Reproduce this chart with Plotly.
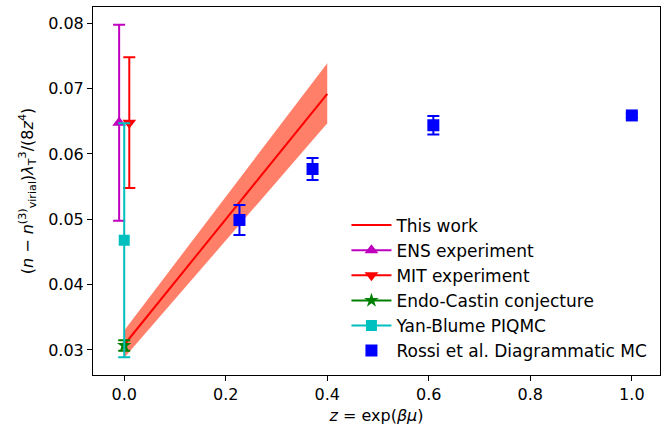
import plotly.graph_objects as go

# "This work": linear fit in z with its uncertainty band
fit_z = [0.0, 0.4]
fit_val = [0.0308, 0.0692]
fit_lo = [0.0288, 0.0647]
fit_hi = [0.0330, 0.0739]

# Single-point references at small z
ens_z, ens_val, ens_err = [-0.01], [0.0648], [0.0150]
mit_z, mit_val, mit_err = [0.01], [0.0648], [0.0100]
endo_z, endo_val, endo_err = [0.0], [0.0307], [0.0008]
yan_z, yan_val, yan_err = [0.0], [0.0468], [0.0179]

# Diagrammatic Monte Carlo results
rossi_z = [0.227, 0.371, 0.609, 1.0]
rossi_val = [0.0499, 0.0577, 0.0644, 0.0659]
rossi_err = [0.0023, 0.0017, 0.0014, 0.0003]

x_ticks = [0.0, 0.2, 0.4, 0.6, 0.8, 1.0]
y_ticks = [0.03, 0.04, 0.05, 0.06, 0.07, 0.08]

FONT = "DejaVu Sans"
MAGENTA = "#bf00bf"
CYAN = "#00bfbf"
GREEN = "#008000"
RED = "#ff0000"
BLUE = "#0000ff"

fig = go.Figure()

# uncertainty band (lower edge, then upper edge filled down to it)
fig.add_trace(go.Scatter(x=fit_z, y=fit_lo, mode="lines", line=dict(width=0),
                         showlegend=False, hoverinfo="skip"))
fig.add_trace(go.Scatter(x=fit_z, y=fit_hi, mode="lines", line=dict(width=0),
                         fill="tonexty", fillcolor="rgb(255,127,105)",
                         showlegend=False, hoverinfo="skip"))


def err(vals, color):
    return dict(type="data", array=vals, visible=True, color=color,
                thickness=2, width=6)


fig.add_trace(go.Scatter(x=fit_z, y=fit_val, mode="lines", name="This work",
                         line=dict(color=RED, width=2), legendgroup="a"))
fig.add_trace(go.Scatter(x=ens_z, y=ens_val, mode="lines+markers", name="ENS experiment",
                         line=dict(color=MAGENTA, width=2),
                         marker=dict(symbol="triangle-up", size=12, color=MAGENTA),
                         error_y=err(ens_err, MAGENTA), legendgroup="b"))
fig.add_trace(go.Scatter(x=mit_z, y=mit_val, mode="lines+markers", name="MIT experiment",
                         line=dict(color=RED, width=2),
                         marker=dict(symbol="triangle-down", size=12, color=RED),
                         error_y=err(mit_err, RED), legendgroup="c"))
fig.add_trace(go.Scatter(x=endo_z, y=endo_val, mode="lines+markers", name="Endo-Castin conjecture",
                         line=dict(color=GREEN, width=2),
                         marker=dict(symbol="star", size=11, color=GREEN),
                         error_y=err(endo_err, GREEN), legendgroup="d"))
fig.add_trace(go.Scatter(x=yan_z, y=yan_val, mode="lines+markers", name="Yan-Blume PIQMC",
                         line=dict(color=CYAN, width=2),
                         marker=dict(symbol="square", size=11, color=CYAN),
                         error_y=err(yan_err, CYAN), legendgroup="e"))
fig.add_trace(go.Scatter(x=rossi_z, y=rossi_val, mode="markers", name="Rossi et al. Diagrammatic MC",
                         marker=dict(symbol="square", size=12, color=BLUE),
                         error_y=err(rossi_err, BLUE), legendgroup="f"))

axis_common = dict(showline=True, linecolor="black", linewidth=1, mirror=True,
                   ticks="outside", ticklen=5, tickwidth=1, tickcolor="black",
                   showgrid=False, zeroline=False,
                   tickfont=dict(family=FONT, size=16, color="black"))

fig.update_layout(
    width=671, height=429,
    margin=dict(l=93, r=11, t=7, b=54),
    paper_bgcolor="white", plot_bgcolor="white",
    font=dict(family=FONT, size=16, color="black"),
    xaxis=dict(range=[-0.0615, 1.0555], tickvals=x_ticks, tickformat=".1f",
               title=dict(text="<i>z</i> = exp(<i>βμ</i>)", standoff=6,
                          font=dict(family=FONT, size=16)),
               **axis_common),
    yaxis=dict(range=[0.02617, 0.0825], tickvals=y_ticks, tickformat=".2f",
               title=dict(text="(<i>n</i> − <i>n</i><sup>(3)</sup><sub>virial</sub>)"
                               "<i>λ</i><sub>T</sub><sup>3</sup>/(8<i>z</i><sup>4</sup>)",
                          standoff=10, font=dict(family=FONT, size=16)),
               **axis_common),
    legend=dict(x=0.447, y=0.455, xanchor="left", yanchor="top",
                bgcolor="rgba(255,255,255,0)", borderwidth=0,
                font=dict(family=FONT, size=17, color="black"),
                traceorder="grouped", tracegroupgap=0, itemwidth=40),
    showlegend=True,
)

fig.write_html("out.html")
